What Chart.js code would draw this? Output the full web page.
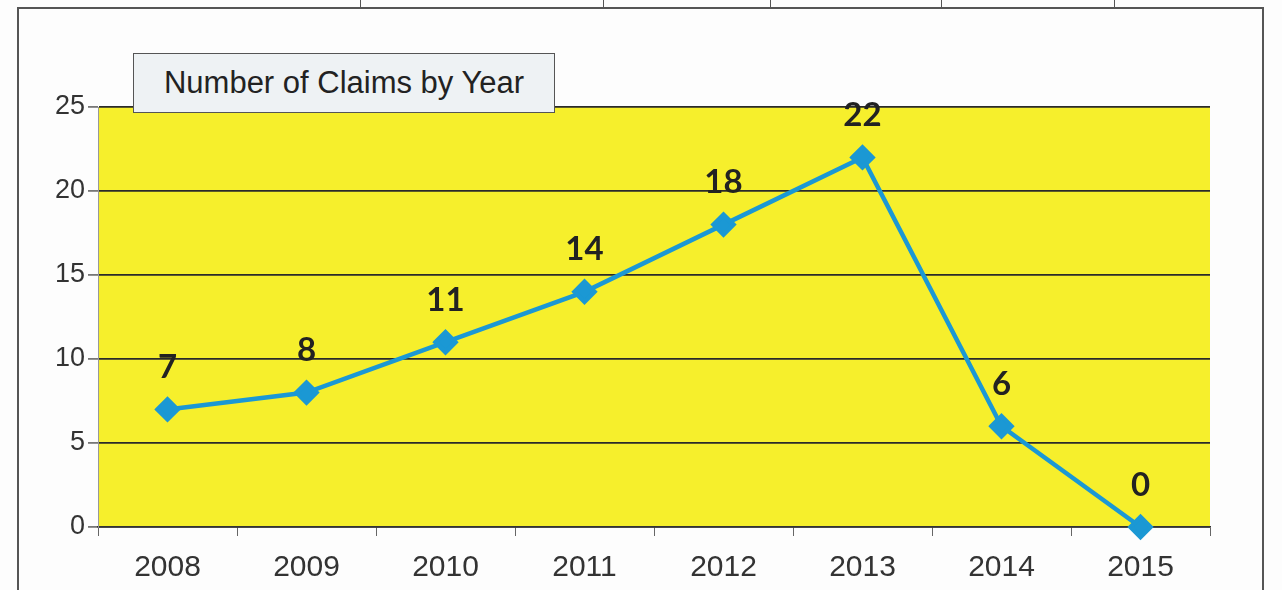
<!DOCTYPE html>
<html>
<head>
<meta charset="utf-8">
<script src="https://cdn.jsdelivr.net/npm/chart.js@4.4.1/dist/chart.umd.min.js"></script>
<style>
  body { margin: 0; background: #fdfdfd; }
  #wrap { position: relative; width: 1282px; height: 590px; overflow: hidden; }
  #frame { position: absolute; left: 17px; top: 7px; width: 1243px; height: 600px; border: 2px solid #555; border-bottom: none; }
  .tick { position: absolute; top: 0; width: 1px; height: 8px; background: #555; }
  #titleBox { position: absolute; left: 133px; top: 53px; width: 422px; height: 60px; background: #eef2f4;
    border: 1.5px solid #555; font: 31px "Liberation Sans", Arial, sans-serif; color: #222;
    display: flex; align-items: center; justify-content: center; box-sizing: border-box; z-index: 2; }
  canvas { position: absolute; left: 0; top: 0; }
</style>
</head>
<body>
<div id="wrap">
  <div id="frame"></div>
  <div class="tick" style="left:360px"></div>
  <div class="tick" style="left:603px"></div>
  <div class="tick" style="left:770px"></div>
  <div class="tick" style="left:941px"></div>
  <div class="tick" style="left:1114px"></div>
  <canvas id="claimsChart" width="1282" height="590"></canvas>
  <div id="titleBox">Number of Claims by Year</div>
</div>
<script>
// Chart data
const years = ['2008', '2009', '2010', '2011', '2012', '2013', '2014', '2015'];
const claims = [7, 8, 11, 14, 18, 22, 6, 0];
const yTicks = [0, 5, 10, 15, 20, 25];

// Yellow plot background
const plotBackground = {
    id: 'plotBackground',
    beforeDraw(chart) {
        const { ctx, chartArea } = chart;
        ctx.save();
        ctx.fillStyle = '#f6ef2c';
        ctx.fillRect(chartArea.left, chartArea.top, chartArea.right - chartArea.left, chartArea.bottom - chartArea.top);
        ctx.restore();
    }
};

// Value labels above each point
const valueLabels = {
    id: 'valueLabels',
    afterDatasetsDraw(chart) {
        const ctx = chart.ctx;
        const meta = chart.getDatasetMeta(0);
        ctx.save();
        ctx.font = 'bold 33px Lato, "Open Sans", sans-serif';
        ctx.fillStyle = '#222';
        ctx.textAlign = 'center';
        ctx.textBaseline = 'middle';
        meta.data.forEach((pt, i) => {
            ctx.fillText(String(claims[i]), pt.x, pt.y - 42);
        });
        ctx.restore();
    }
};

const ctx = document.getElementById('claimsChart').getContext('2d');
new Chart(ctx, {
    type: 'line',
    data: {
        labels: years,
        datasets: [{
            label: 'Claims',
            data: claims,
            borderColor: '#1b98d4',
            backgroundColor: '#1b98d4',
            borderWidth: 4.5,
            pointStyle: 'rectRot',
            pointRadius: 10,
            pointHoverRadius: 10,
            fill: false,
            tension: 0,
            clip: false
        }]
    },
    options: {
        responsive: false,
        animation: false,
        layout: { padding: { left: 0, right: 72, top: 107, bottom: 5 } },
        plugins: {
            legend: { display: false },
            tooltip: { enabled: false }
        },
        scales: {
            x: {
                offset: true,
                grid: { offset: true, drawOnChartArea: false, drawTicks: true, tickLength: 9, color: '#666', lineWidth: 1 },
                border: { display: true, color: '#333', width: 1.5 },
                ticks: { color: '#333', font: { family: '"Liberation Sans", Arial, sans-serif', size: 30 }, padding: 14 },
                afterFit(scale) { scale.height = 58; }
            },
            y: {
                min: 0,
                max: 25,
                afterBuildTicks(scale) { scale.ticks = yTicks.map(v => ({ value: v })); },
                grid: { color: '#2a2a2a', lineWidth: 1.8, tickLength: 10, tickColor: '#777' },
                border: { display: true, color: '#999', width: 1 },
                ticks: { color: '#333', font: { family: '"Liberation Sans", Arial, sans-serif', size: 27 }, padding: 3 },
                afterFit(scale) { scale.width = 98; }
            }
        }
    },
    plugins: [plotBackground, valueLabels]
});
</script>
</body>
</html>
